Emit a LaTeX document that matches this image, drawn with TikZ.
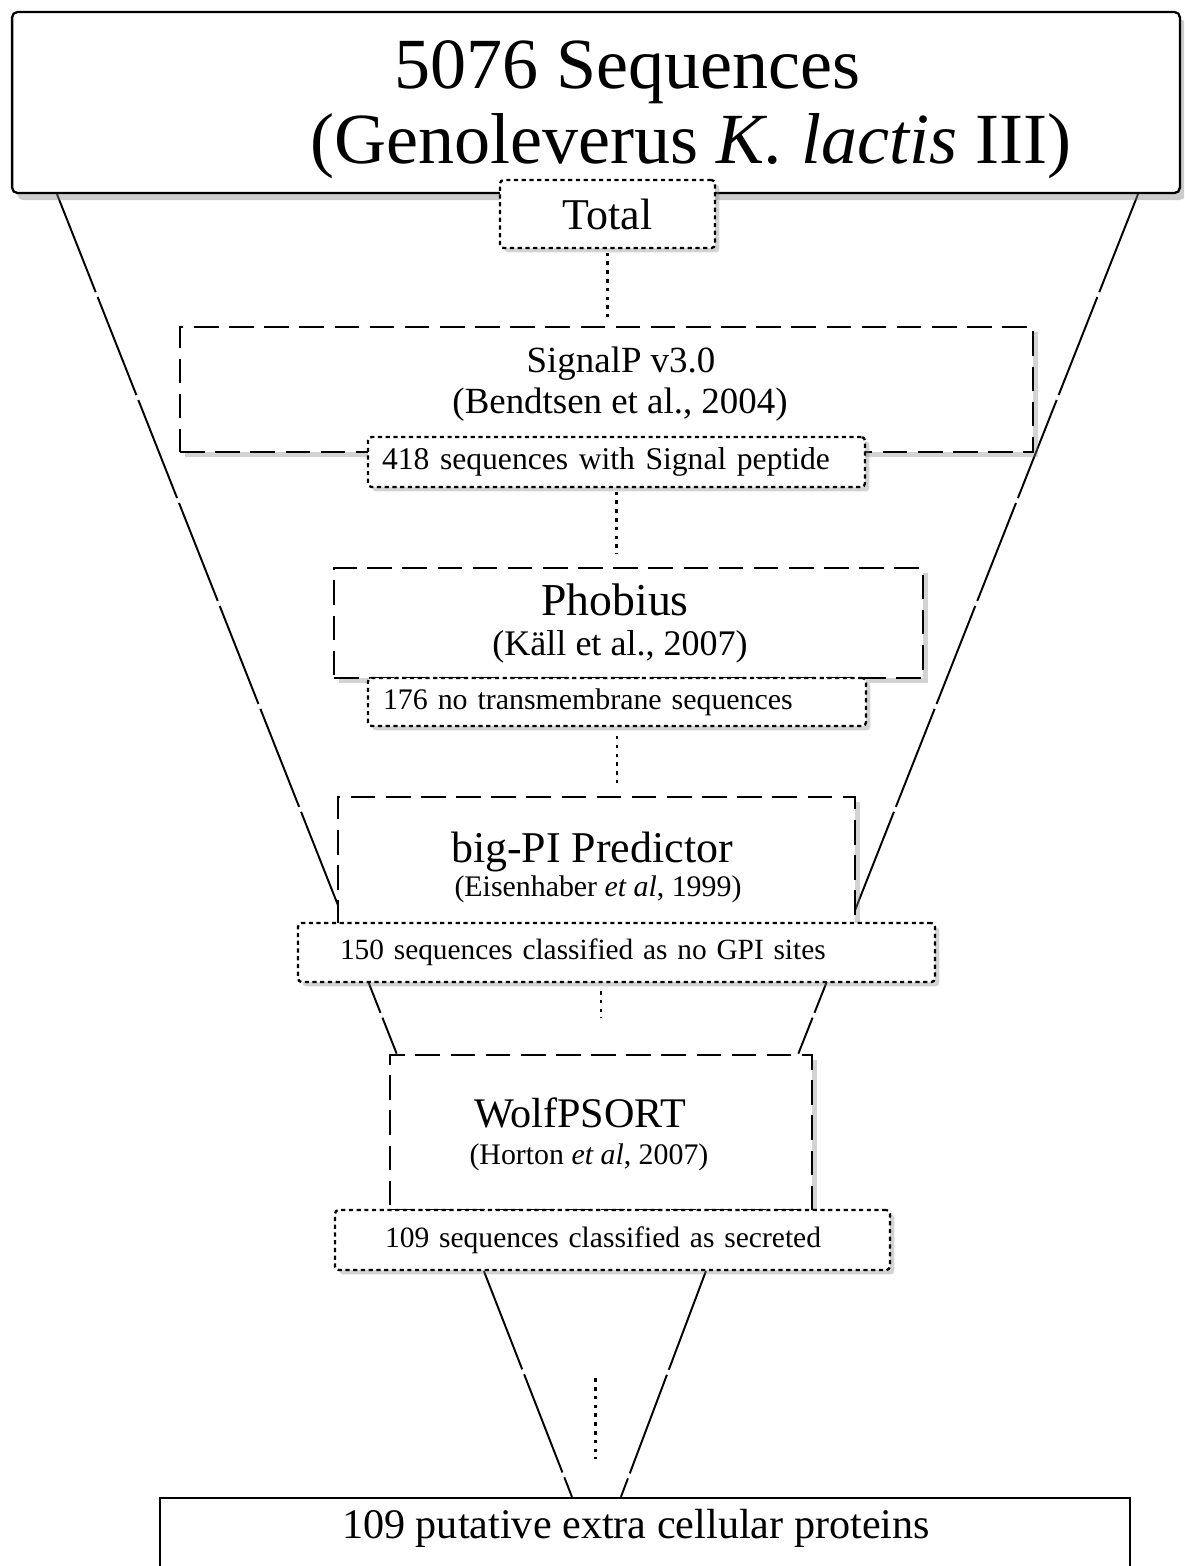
\documentclass[tikz,border=0pt]{standalone}
\usepackage{fontspec}
\setmainfont{Liberation Serif}
\usetikzlibrary{shadows,backgrounds,calc}

\tikzset{
  titlebox/.style={draw, line width=1.3pt, rounded corners=3pt, fill=white,
    drop shadow={shadow xshift=3pt, shadow yshift=-4pt, opacity=0.4}},
  toolbox/.style={draw, line width=1.6pt, dash pattern=on 14pt off 6pt, fill=white,
    drop shadow={shadow xshift=3pt, shadow yshift=-3pt, opacity=0.35}},
  resultbox/.style={draw, line width=1.3pt, dash pattern=on 2.4pt off 2pt, rounded corners=2pt, fill=white,
    drop shadow={shadow xshift=2.5pt, shadow yshift=-2.5pt, opacity=0.35}},
  funnel/.style={line width=1.1pt, dash pattern=on 60pt off 3pt},
  link/.style={line width=1.3pt, dash pattern=on 2pt off 3pt},
}

\begin{document}
\begin{tikzpicture}[x=0.02cm, y=-0.02cm]
    \useasboundingbox (0,0) rectangle (1184,1566);
    \clip (0,0) rectangle (1184,1566);

    % Define boxes
    \node[titlebox, minimum width=23.36cm, minimum height=3.62cm] (top) at (596,102.5) {};
    \node[resultbox, minimum width=4.3cm, minimum height=1.36cm, font=\fontsize{25}{30}\selectfont] (total) at (607.5,214) {Total};

    \node[toolbox, minimum width=17.06cm, minimum height=2.5cm] (sigp) at (606.5,389.5) {};
    \node[resultbox, minimum width=9.94cm, minimum height=1cm, inner xsep=0.28cm, text width=9.38cm, align=left,
      font=\fontsize{18}{21}\selectfont] (sigpout) at (616.5,462) {418 sequences with Signal peptide};

    \node[toolbox, minimum width=11.78cm, minimum height=2.2cm] (phob) at (628.5,623) {};
    \node[resultbox, minimum width=9.96cm, minimum height=0.96cm, inner xsep=0.3cm, text width=9.36cm, align=left,
      font=\fontsize{17}{20}\selectfont] (phobout) at (617,702) {176 no transmembrane sequences};

    \node[toolbox, minimum width=10.34cm, minimum height=2.56cm] (gpi) at (596.5,861) {};
    \node[resultbox, minimum width=12.74cm, minimum height=1.18cm, inner xsep=0.84cm, text width=11.06cm, align=left,
      font=\fontsize{16.7}{20}\selectfont] (gpiout) at (616.5,952.5) {150 sequences classified as no GPI sites};

    \node[toolbox, minimum width=8.44cm, minimum height=3.1cm] (wolf) at (601,1132.5) {};
    \node[resultbox, minimum width=11.1cm, minimum height=1.2cm, inner xsep=1cm, text width=9.1cm, align=left,
      font=\fontsize{16.8}{20}\selectfont] (wolfout) at (612.5,1240) {109 sequences classified as secreted};

    \node[draw, line width=1.3pt, fill=white, minimum width=19.4cm, minimum height=1.84cm] (final) at (645,1544) {};

    % Define texts
    \node[anchor=base, font=\fontsize{41}{49}\selectfont] (count) at (627.5,88) {5076 Sequences};
    \node[anchor=base, font=\fontsize{41}{49}\selectfont] (strain) at (691,163) {(Genoleverus \textit{K. lactis} III)};

    \node[anchor=base, font=\fontsize{21}{25}\selectfont] (sigpname) at (621,372) {SignalP v3.0};
    \node[anchor=base, font=\fontsize{21}{25}\selectfont] (sigpref) at (620,413) {(Bendtsen et al., 2004)};

    \node[anchor=base, font=\fontsize{26}{31}\selectfont] (phobname) at (615,615) {Phobius};
    \node[anchor=base, font=\fontsize{20.5}{25}\selectfont] (phobref) at (620,655) {(Käll et al., 2007)};

    \node[anchor=base, font=\fontsize{25}{30}\selectfont] (gpiname) at (592,862) {big-PI Predictor};
    \node[anchor=base, font=\fontsize{17}{20}\selectfont] (gpiref) at (598,896) {(Eisenhaber \textit{et al},~1999)};

    \node[anchor=base, font=\fontsize{24}{29}\selectfont] (wolfname) at (580,1127) {WolfPSORT};
    \node[anchor=base, font=\fontsize{17}{20}\selectfont] (wolfref) at (589,1164) {(Horton \textit{et al},~2007)};

    \node[anchor=base, font=\fontsize{24}{29}\selectfont] (putative) at (636,1538) {109 putative extra cellular proteins};

    % Draw links
    \draw[link, shorten <=2pt, shorten >=5pt] (total.south) -- (total.south |- sigp.north);
    \draw[link, shorten <=2pt, shorten >=7pt] (sigpout.south) -- (sigpout.south |- phob.north);
    \draw[link, shorten <=5pt, shorten >=7pt] (phobout.south) -- (phobout.south |- gpi.north);
    \draw[link, shorten <=4.5pt, shorten >=20pt] (wolf.north |- gpiout.south) -- (wolf.north);
    \draw[link, shorten <=61pt, shorten >=21.5pt] ($(wolfout.south)+(-17,0)$) -- ($(wolfout.south |- final.north)+(-17,0)$);

    % Draw funnel
    \begin{pgfonlayer}{background}
        \draw[funnel] ($(top.south west)+(46,0)$) -- ($(wolf.north west)+(8,0)$);
        \draw[funnel] ($(top.south east)+(-43,0)$) -- ($(wolf.north east)+(-15,0)$);
        \draw[funnel] ($(wolfout.south west)+(150,0)$) -- ($(final.north west)+(413,0)$);
        \draw[funnel] ($(wolfout.south west)+(372,0)$) -- ($(final.north west)+(462,0)$);
    \end{pgfonlayer}
\end{tikzpicture}
\end{document}
